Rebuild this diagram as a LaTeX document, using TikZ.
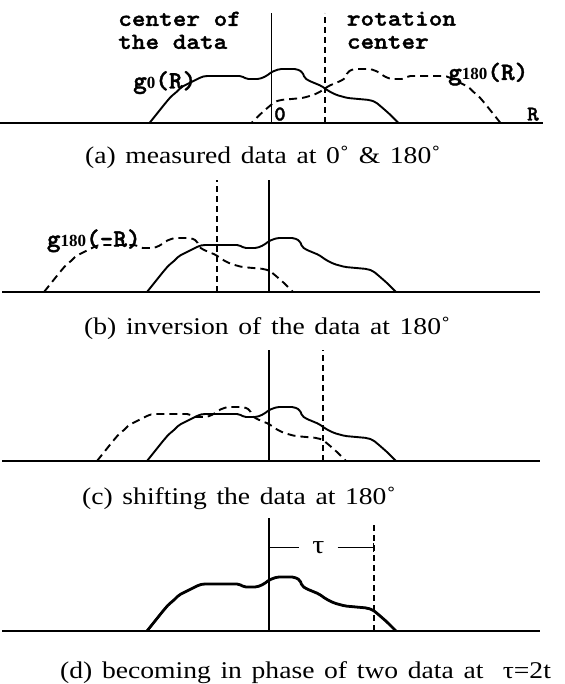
\documentclass[tikz,border=0pt]{standalone}
\usepackage{fontspec}
\setmainfont{Liberation Serif}
\newfontfamily\capfont{Liberation Serif}[FakeStretch=1.15,WordSpace=1.4]
\newfontfamily\lblfont{lmmonolt10-bold.otf}[FakeStretch=1.04,FakeBold=1.5]
\newfontfamily\headfont{lmmonolt10-bold.otf}[FakeStretch=1.13,FakeBold=1.5]
\newfontfamily\idxfont{Liberation Serif}
\usetikzlibrary{positioning}

% small index of g (0, 180)
\newcommand{\idx}[1]{{\idxfont\bfseries\fontsize{17}{17}\selectfont #1}}

% profile g_0 of the measured data, measured from the centre of the data
\newcommand{\gcurve}[1]{%
  \draw[#1] (-122,0) -- (-106,20) -- (-100,27) -- (-96,30) -- (-90,36) -- (-82,40)
    -- (-70,46) -- (-66,47) -- (-30,47) -- (-25,44) -- (-12,44) -- (-5,47) -- (0,51)
    -- (8,54) -- (25,54) -- (31,51) -- (33,45) -- (38,42) -- (50,37) -- (57,32)
    -- (65,28) -- (76,25) -- (98,23) -- (104,21) -- (110,16) -- (118,9) -- (127,0);}

\tikzset{
  axisline/.style={line width=2.2pt},
  centreline/.style={line width=1.7pt},
  rotline/.style={line width=1.7pt, dash pattern=on 6pt off 4pt},
  datacurve/.style={line width=1.9pt, line join=round, rounded corners=2pt},
  shiftcurve/.style={datacurve, dash pattern=on 8pt off 5pt},
  lbl/.style={font=\lblfont\fontsize{25}{25}\selectfont, inner sep=0pt,
    text height=15pt, text depth=3pt, anchor=base west},
  headlbl/.style={font=\headfont\fontsize{23}{23}\selectfont, inner sep=0pt,
    align=left, anchor=north west},
  smalllbl/.style={lbl, font=\lblfont\fontsize{21}{21}\selectfont, text height=12pt},
  captext/.style={font=\capfont\fontsize{24}{28}\selectfont, inner sep=0pt, anchor=base west},
}

\begin{document}
\begin{tikzpicture}[x=1pt, y=1pt]
    \useasboundingbox (0,0) rectangle (564,684);

    % 1. (a) data at 0 and 180 degrees
    \begin{scope}[shift={(271.5,561)}]
        \draw[axisline] (-271.5,0) -- (271.5,0);
        \draw[centreline] (0,0) -- (0,110);
        \draw[rotline] (53.5,0) -- (53.5,110);
        \gcurve{datacurve}
        \begin{scope}[xshift=107pt, xscale=-1]
            \gcurve{shiftcurve}
        \end{scope}
    \end{scope}
    \node[headlbl] (ctrdata) at (118,672.5) {center of\\the data};
    \node[headlbl] (rotctr) at (346.7,672.5) {rotation\\center};
    \node[lbl] (gzero) at (133,595.5) {g\idx{0}(R)};
    \node[lbl] (gone) at (448,604) {g\idx{180}(R)};
    \node[smalllbl] (orig) at (274,563.5) {0};
    \node[smalllbl] (raxis) at (527,563.5) {R};
    \node[captext] (capa) at (85,520.7) {(a) measured data at 0˚ \& 180˚};

    % 2. (b) inversion
    \begin{scope}[shift={(269,392)}]
        \draw[axisline] (-267,0) -- (271,0);
        \draw[centreline] (0,0) -- (0,112);
        \draw[rotline] (-52,0) -- (-52,112);
        \gcurve{datacurve}
        \begin{scope}[xshift=-103pt]
            \gcurve{shiftcurve}
        \end{scope}
    \end{scope}
    \node[lbl] (ginv) at (46.7,437.3) {g\idx{180}(–R)};
    \node[captext] (capb) at (84,349) {(b) inversion of the data at 180˚};

    % 3. (c) shifting
    \begin{scope}[shift={(269,223)}]
        \draw[axisline] (-267,0) -- (271,0);
        \draw[centreline] (0,0) -- (0,111);
        \draw[rotline] (54,0) -- (54,111);
        \gcurve{datacurve}
        \begin{scope}[xshift=-50pt]
            \gcurve{shiftcurve}
        \end{scope}
    \end{scope}
    \node[captext] (capc) at (82,179) {(c) shifting the data at 180˚};

    % 4. (d) in phase, shift tau
    \begin{scope}[shift={(269,53)}]
        \draw[axisline] (-267,0) -- (271,0);
        \draw[centreline] (0,0) -- (0,113);
        \draw[rotline] (105,0) -- (105,109);
        \gcurve{datacurve, line width=2.8pt}
        \gcurve{shiftcurve}
        \coordinate (tl) at (0,83.7);
        \coordinate (tr) at (105,83.7);
        \node[font=\capfont\fontsize{26}{26}\selectfont, inner ysep=0pt, inner xsep=13pt] (tau) at (49.3,83.7) {τ};
        \draw[line width=1.3pt, |-] (tl) -- (tau.west);
        \draw[line width=1.3pt, -|] (tau.east) -- (tr);
    \end{scope}
    \node[captext] (capd) at (60,5.7) {(d) becoming in phase of two data at~ τ=2t};
\end{tikzpicture}
\end{document}
